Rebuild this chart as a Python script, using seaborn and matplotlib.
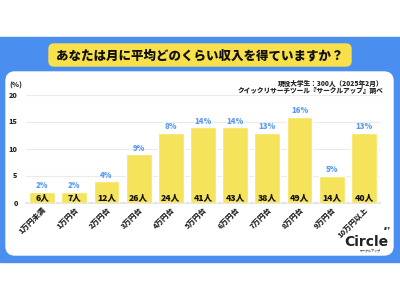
import matplotlib
matplotlib.use("Agg")
import matplotlib.pyplot as plt
from matplotlib.patches import FancyBboxPatch, Rectangle
from matplotlib.transforms import IdentityTransform
import pandas as pd
import seaborn as sns

# data
categories = ["1万円未満", "1万円台", "2万円台", "3万円台", "4万円台", "5万円台",
              "6万円台", "7万円台", "8万円台", "9万円台", "10万円以上"]
bar_heights = [2, 2, 4, 9, 13, 14, 14, 13, 16, 5, 13]
pct_labels = [2, 2, 4, 9, 8, 14, 14, 13, 16, 5, 13]
counts = [6, 7, 12, 26, 24, 41, 43, 38, 49, 14, 40]
y_ticks = [0, 5, 10, 15, 20]

title = "あなたは月に平均どのくらい収入を得ていますか？"
note1 = "現役大学生：300人（2025年2月）"
note2 = "クイックリサーチツール『サークルアップ』調べ"

BLUE = "#4A8FEF"
YELLOW = "#F5E35C"
PILL = "#F8E04B"
LABEL_BLUE = "#5A9BF0"

sns.set_theme(style="white")
plt.rcParams["font.family"] = ["Noto Sans CJK JP", "DejaVu Sans"]
plt.rcParams["font.weight"] = "bold"

fig = plt.figure(figsize=(4, 3), dpi=100)
fig.patch.set_facecolor("white")
px = IdentityTransform()

# blue band and white panel (pixel coords, origin bottom-left)
fig.patches.append(Rectangle((0, 38), 400, 225, transform=px, color=BLUE, zorder=0))
fig.patches.append(FancyBboxPatch((6, 45), 387, 183, boxstyle="round,pad=0,rounding_size=9",
                                  transform=px, color="white", zorder=1))
fig.patches.append(FancyBboxPatch((49, 234), 302, 22, boxstyle="round,pad=0,rounding_size=5",
                                  transform=px, color=PILL, zorder=1))
fig.text(200 / 400, 245 / 300, title, ha="center", va="center", fontsize=9,
         fontweight="black", color="#111111", zorder=3)

fig.text(383 / 400, 217 / 300, note1, ha="right", va="center", fontsize=4.8, fontweight="black")
fig.text(383 / 400, 210 / 300, note2, ha="right", va="center", fontsize=4.8, fontweight="black")

ax = fig.add_axes([26 / 400, 97 / 300, 354 / 400, 108 / 300])
ax.set_zorder(2)
ax.patch.set_alpha(0)

df = pd.DataFrame({"cat": categories, "h": bar_heights})
sns.barplot(data=df, x="cat", y="h", color=YELLOW, width=0.8, saturation=1, ax=ax, zorder=3)

for i, (h, p, c) in enumerate(zip(bar_heights, pct_labels, counts)):
    ax.text(i, h + 0.35, f"{p}%", ha="center", va="bottom", fontsize=5.6,
            fontweight="black", color=LABEL_BLUE)
    ax.text(i, 1.0, f"{c}人", ha="center", va="center", fontsize=6.2,
            fontweight="black", color="#111111", zorder=4)

ax.set_xlim(-0.5, len(categories) - 0.5)
ax.set_ylim(0, 20)
ax.set_yticks(y_ticks)
ax.set_yticklabels([str(t) for t in y_ticks], fontsize=5.2, fontweight="black")
ax.tick_params(axis="y", length=0, pad=6)
ax.tick_params(axis="x", length=0, pad=2)
ax.set_xticks(range(len(categories)))
ax.set_xticklabels(categories, rotation=45, ha="right", rotation_mode="anchor",
                   fontsize=5.4, fontweight="black")
ax.set_xlabel("")
ax.set_ylabel("")
ax.grid(axis="y", color="#EBEBEB", linewidth=0.8, zorder=0)
ax.set_axisbelow(True)
for s in ["top", "right", "left"]:
    ax.spines[s].set_visible(False)
ax.spines["bottom"].set_color("#E0E0E0")
ax.text(-0.03, 1.06, "(%)", transform=ax.transAxes, ha="center", va="bottom",
        fontsize=5.2, fontweight="black")

# logo
fig.text(388 / 400, 58 / 300, "Circle", ha="right", va="center", fontsize=10,
         fontweight="bold", color="#222222", family=["DejaVu Sans"])
fig.text(390 / 400, 68.5 / 300, "APP", ha="right", va="bottom", fontsize=2.5,
         fontweight="bold", color="#222222")
fig.text(370 / 400, 50 / 300, "サークルアップ", ha="center", va="center", fontsize=2.2,
         color="#444444")

fig.savefig("out.png", dpi=100)
